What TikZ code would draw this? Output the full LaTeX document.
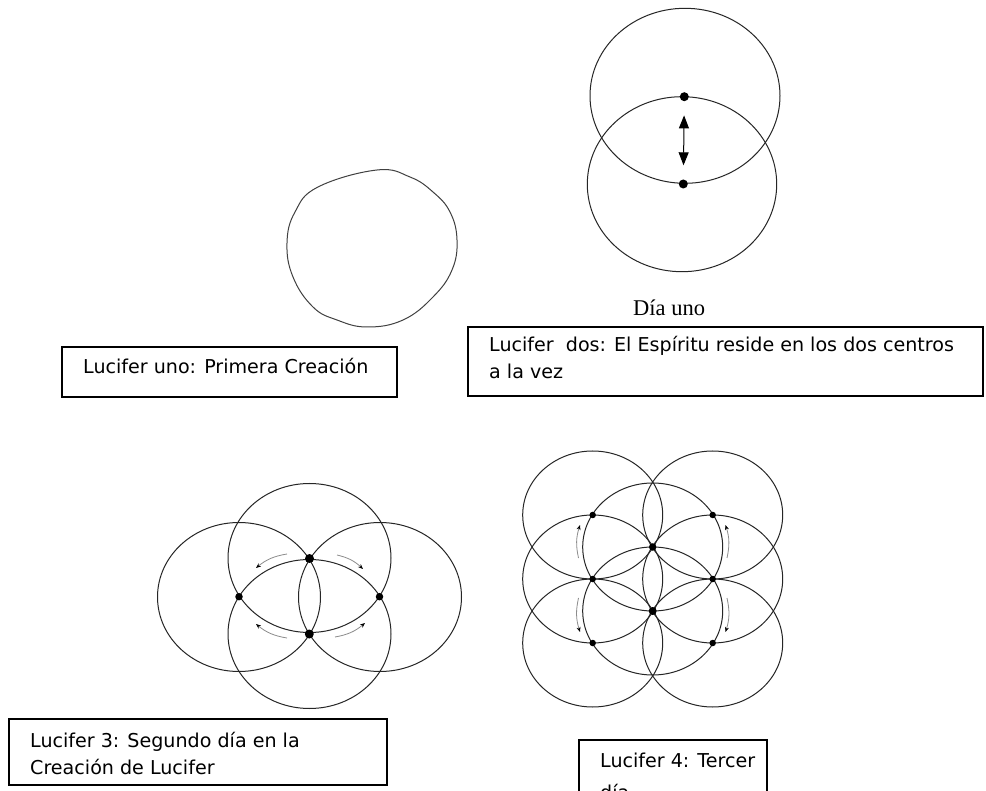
\documentclass[tikz,border=0pt]{standalone}
\usepackage{fontspec}
\newfontfamily\boxfont{DejaVu Sans}
\newfontfamily\serfont{Liberation Serif}
\usetikzlibrary{arrows.meta}
\begin{document}
\begin{tikzpicture}[x=1pt,y=-1pt,
  frame/.style={draw=black, line width=2pt, rectangle, inner sep=0pt, anchor=north west},
  boxtext/.style={font=\boxfont\fontsize{19.1}{23}\selectfont, anchor=base west, inner sep=0pt},
  ring/.style={draw=black!85, line width=1pt},
  dot/.style={circle, fill=black, inner sep=0pt},
  turn/.style={draw=black!45, line width=0.8pt, -{Stealth[length=5pt,width=4pt,black]}},
  dbl/.style={draw=black, line width=1pt, {Triangle[length=13pt,width=10pt]}-{Triangle[length=13pt,width=10pt]}}
]
\clip (0,0) rectangle (986,791);
\fill[white] (0,0) rectangle (986,791);

% ---------- Lucifer uno ----------
\draw[ring, draw=black!75] plot[smooth cycle, tension=0.7] coordinates {
  (377,170) (410,177) (433,192) (450,212) (457,240) (452,270) (433,297)
  (403,320) (367,327) (337,320) (313,307) (293,277) (287,243) (295,212) (318,187)};
\node[frame, minimum width=335pt, minimum height=50pt] (box1) at (61,346) {};
\node[boxtext] (t1) at (83,374) {Lucifer uno: Primera Creación};

% ---------- Lucifer dos ----------
\draw[ring] (685,95.8) ellipse [x radius=95, y radius=87.5];
\draw[ring] (682,184.2) ellipse [x radius=94.7, y radius=87.5];
\node[dot, minimum size=9pt] (d2a) at (684.3,96.7) {};
\node[dot, minimum size=9pt] (d2b) at (683.3,184) {};
\draw[dbl, shorten <=14pt, shorten >=14pt] (d2a) -- (d2b);
\node[font=\serfont\fontsize{22.5}{26}\selectfont, anchor=base west, inner sep=0pt] (dia) at (633,316) {Día uno};
\node[frame, minimum width=515pt, minimum height=69pt] (box2) at (467,326) {};
\node[boxtext] (t2a) at (489,352) {Lucifer\ \ dos: El Espíritu reside en los dos centros};
\node[boxtext] (t2b) at (489,379) {a la vez};

% ---------- Lucifer 3 ----------
\foreach \cx/\cy in {309.5/558, 309.5/634, 239/597, 380/597}
  \draw[ring] (\cx,\cy) ellipse [x radius=81.5, y radius=74.5];
\node[dot, minimum size=9pt] (d3t) at (309.5,558.5) {};
\node[dot, minimum size=9pt] (d3b) at (309.3,634) {};
\node[dot, minimum size=7.5pt] (d3l) at (239,596.7) {};
\node[dot, minimum size=7.5pt] (d3r) at (379.5,596.7) {};
\coordinate (a1s) at (287,554); \coordinate (a1e) at (256,568);
\coordinate (a2s) at (337,555); \coordinate (a2e) at (363,569);
\coordinate (a3s) at (287,638); \coordinate (a3e) at (256,624);
\coordinate (a4s) at (335,637); \coordinate (a4e) at (365,623);
\draw[turn] (a1s) to[bend right=15] (a1e);
\draw[turn] (a2s) to[bend left=15] (a2e);
\draw[turn] (a3s) to[bend left=15] (a3e);
\draw[turn] (a4s) to[bend right=15] (a4e);
\node[frame, minimum width=378pt, minimum height=66pt] (box3) at (8,718) {};
\node[boxtext] (t3a) at (30,747) {Lucifer 3: Segundo día en la};
\node[boxtext] (t3b) at (30,774) {Creación de Lucifer};

% ---------- Lucifer 4 ----------
\foreach \cx/\cy in {592.7/515, 712.7/515, 652.7/547, 592.7/579, 712.7/579, 652.7/611, 592.7/643, 712.7/643}
  \draw[ring] (\cx,\cy) ellipse [x radius=70, y radius=64];
\foreach \n/\cx/\cy/\s in {a/592.7/515/6.5, b/712.7/515/6.5, c/652.7/547/7.5, d/592.7/579/6.5,
    e/712.7/579/6.5, f/652.7/611/8, g/592.7/643/6.5, h/712.7/643/6.5}
  \node[dot, minimum size=\s pt] (d4\n) at (\cx,\cy) {};
\coordinate (b1s) at (578.5,558); \coordinate (b1e) at (580,525);
\coordinate (b2s) at (578.5,598); \coordinate (b2e) at (580,632);
\coordinate (b3s) at (727,558); \coordinate (b3e) at (725.5,525);
\coordinate (b4s) at (727,598); \coordinate (b4e) at (725.5,632);
\draw[turn] (b1s) to[bend left=15] (b1e);
\draw[turn] (b2s) to[bend right=15] (b2e);
\draw[turn] (b3s) to[bend right=15] (b3e);
\draw[turn] (b4s) to[bend left=15] (b4e);
\node[frame, minimum width=188pt, minimum height=91pt] (box4) at (578,739) {};
\node[boxtext] (t4a) at (600,767) {Lucifer 4: Tercer};
\node[boxtext] (t4b) at (600,799) {día};
\end{tikzpicture}
\end{document}
